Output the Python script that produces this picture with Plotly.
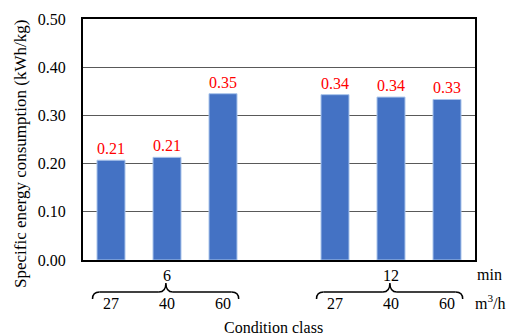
import plotly.graph_objects as go

# ---- data ----
time_groups = ["6", "12"]          # min
flow_rates = ["27", "40", "60"]    # m3/h
values_6 = [0.207, 0.213, 0.345]
values_12 = [0.343, 0.338, 0.333]
label_6 = ["0.21", "0.21", "0.35"]
label_12 = ["0.34", "0.34", "0.33"]
y_ticks = [0.0, 0.1, 0.2, 0.3, 0.4, 0.5]

FONT = "'Liberation Serif', 'Times New Roman', Times, serif"
W, H = 508, 336
ML, MR, MT, MB = 83, 33, 19, 76
PW, PH = W - ML - MR, H - MT - MB
NSLOT = 7

xs, ys, texts = [], [], []
for g, (vals, labs) in enumerate([(values_6, label_6), (values_12, label_12)]):
    for i, (v, t) in enumerate(zip(vals, labs)):
        xs.append(g * 4 + i)
        ys.append(v)
        texts.append(t)

fig = go.Figure()
fig.add_trace(go.Bar(
    x=xs, y=ys, width=0.5, text=texts, textposition="outside",
    textfont=dict(color="#FF0000", size=16, family=FONT),
    cliponaxis=False,
    marker=dict(color="#4472C4", line=dict(color="#A9C4EB", width=1)),
))

def py(p):  # pixel y -> paper y
    return (MT + PH - p) / PH

def pxp(p):  # pixel x -> paper x
    return (p - ML) / PW

def pxd(xd):  # data x -> paper x
    return (xd + 0.5) / NSLOT

def ann(x, y, text, xref="paper", size=16, **kw):
    d = dict(x=x, y=y, xref=xref, yref="paper", text=text, showarrow=False,
             xanchor="center", yanchor="middle",
             font=dict(size=size, family=FONT, color="black"))
    d.update(kw)
    return d

annotations = []
shapes = []
dx = 7.0 / PW
LINE = dict(color="black", width=1.5)
for g, tg in enumerate(time_groups):
    c = g * 4 + 1
    annotations.append(ann(c, py(275), tg, xref="x"))
    for i, fr in enumerate(flow_rates):
        annotations.append(ann(g * 4 + i, py(303), fr, xref="x"))
    x0, x1, xc = pxd(c - 1.33), pxd(c + 1.28), pxd(c - 0.02)
    yb, yh, yt = py(299), py(292), py(283)
    # brace: end hooks, horizontal runs and the central cusp
    shapes.append(dict(type="path", xref="paper", yref="paper", line=LINE,
                       path=f"M {x0},{yb} Q {x0},{yh} {x0+dx},{yh}"))
    shapes.append(dict(type="line", xref="paper", yref="paper", line=LINE,
                       x0=x0 + dx, x1=xc - dx, y0=yh, y1=yh))
    shapes.append(dict(type="path", xref="paper", yref="paper", line=LINE,
                       path=f"M {xc-dx},{yh} Q {xc},{yh} {xc},{yt} Q {xc},{yh} {xc+dx},{yh}"))
    shapes.append(dict(type="line", xref="paper", yref="paper", line=LINE,
                       x0=xc + dx, x1=x1 - dx, y0=yh, y1=yh))
    shapes.append(dict(type="path", xref="paper", yref="paper", line=LINE,
                       path=f"M {x1-dx},{yh} Q {x1},{yh} {x1},{yb}"))

annotations += [
    ann(pxp(489), py(274), "min"),
    ann(pxp(490), py(302), "m<sup>3</sup>/h"),
    ann(pxp(273), py(327), "Condition class"),
    ann(pxp(20), py(154), "Specific energy consumption (kWh/kg)", size=17, textangle=-90),
]

fig.update_layout(
    width=W, height=H, margin=dict(l=ML, r=MR, t=MT, b=MB),
    paper_bgcolor="white", plot_bgcolor="white", showlegend=False,
    font=dict(family=FONT, color="black", size=16),
    xaxis=dict(range=[-0.5, 6.5], showticklabels=False, showgrid=False, zeroline=False,
               showline=True, linecolor="black", linewidth=2, mirror=True, ticks=""),
    yaxis=dict(range=[0, 0.5], tickvals=y_ticks, tickformat=".2f", showgrid=True,
               gridcolor="#595959", gridwidth=1, zeroline=False,
               showline=True, linecolor="black", linewidth=2, mirror=True, ticks="",
               ticklabelstandoff=12, tickfont=dict(size=16, family=FONT, color="black")),
    annotations=annotations, shapes=shapes,
)

fig.write_html("out.html", config={"displayModeBar": False},
               post_script="document.body.style.margin='0';")
